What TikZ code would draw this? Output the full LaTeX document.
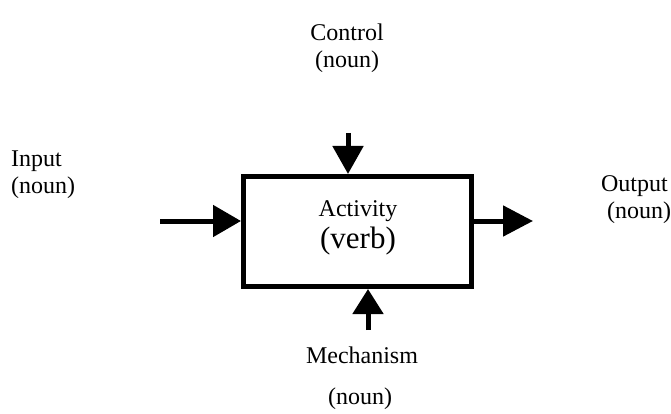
\documentclass[tikz,border=0pt]{standalone}
\usepackage{fontspec}
\setmainfont{Liberation Serif}
\usetikzlibrary{arrows.meta}
\begin{document}
\begin{tikzpicture}[x=1pt,y=-1pt,
  actbox/.style={draw=black, line width=5pt, minimum width=228pt, minimum height=110pt, inner sep=0pt},
  lbl/.style={inner sep=0pt, font=\fontsize{24}{27}\selectfont},
  flow/.style={line width=5pt, -{Triangle[length=28pt,width=31pt]}}]
\useasboundingbox (0,0) rectangle (671,414);
\node[actbox] (act) at (357.5,231.5) {};
\node[inner sep=0pt, align=center] (acttext) at (358,228)
  {\fontsize{24}{27}\selectfont Activity\\[4pt]\fontsize{31}{31}\selectfont (verb)};
\node[lbl, align=center] (ctl) at (347,48) {Control\\(noun)};
\node[lbl, align=left] (inp) at (43,175) {Input\\(noun)};
\node[lbl, align=left] (outp) at (636,200) {Output\\\ (noun)};
\node[lbl] (mech) at (362,355) {Mechanism};
\node[lbl] (mechn) at (360,399) {(noun)};
\coordinate (inT) at (160,221);
\coordinate (outT) at (533,221);
\coordinate (ctlT) at (348,133);
\coordinate (mechT) at (368,330);
\draw[flow] (inT) -- (act.west |- inT);
\draw[flow, -{Triangle[length=30pt,width=30pt]}] (act.east |- outT) -- (outT);
\draw[flow, -{Triangle[length=28pt,width=30pt]}] (ctlT) -- (ctlT |- act.north);
\draw[flow, -{Triangle[length=25pt,width=30pt]}] (mechT) -- (mechT |- act.south);
\end{tikzpicture}
\end{document}
